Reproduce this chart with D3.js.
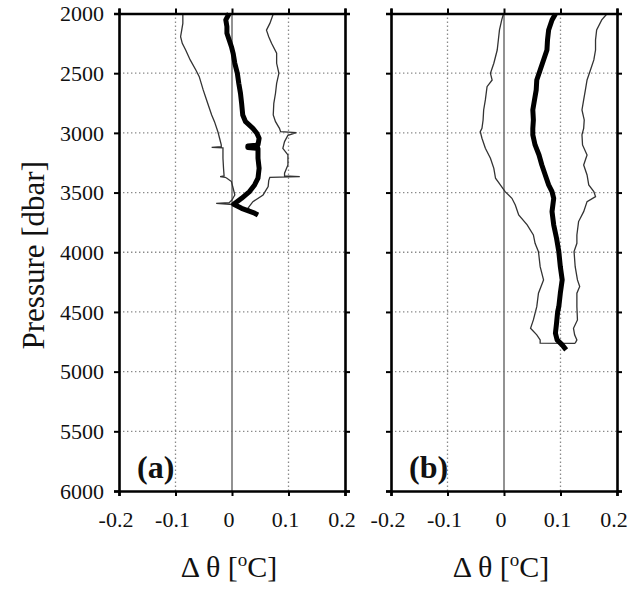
<!DOCTYPE html>
<html><head><meta charset="utf-8">
<script src="https://cdn.jsdelivr.net/npm/d3@7"></script>
<style>body{margin:0;background:#fff}svg{display:block}text{font-family:"Liberation Serif","Times New Roman",serif;fill:#111}</style>
</head><body>
<svg id="c" width="635" height="589"></svg>
<script>
// ---------- data ----------
const xTicks = [-0.2, -0.1, 0, 0.1, 0.2];
const xTickLabels = ["-0.2", "-0.1", "0", "0.1", "0.2"];
const yTicks = [2000, 2500, 3000, 3500, 4000, 4500, 5000, 5500, 6000];
const panelLabels = ["(a)", "(b)"];

// Panel (a): mean profile
const aMeanP = [2000, 2054, 2110, 2166, 2222, 2278, 2333, 2417, 2501, 2585, 2668, 2752, 2850, 2906, 2962, 3003, 3045, 3101, 3110, 3122, 3130, 3213, 3297, 3380, 3436, 3492, 3548, 3598, 3632, 3673, 3688];
const aMeanV = [-0.005, -0.011, -0.009, -0.009, -0.005, -0.001, 0.002, 0.005, 0.0095, 0.012, 0.015, 0.017, 0.019, 0.024, 0.037, 0.044, 0.048, 0.046, 0.028, 0.028, 0.046, 0.046, 0.048, 0.046, 0.040, 0.031, 0.017, 0.003, 0.017, 0.040, 0.046];
// Panel (a): lower bound
const aLowP = [2005, 2083, 2139, 2194, 2250, 2306, 2389, 2473, 2529, 2640, 2724, 2808, 2850, 2906, 2990, 3045, 3101, 3116, 3121, 3126, 3213, 3297, 3360, 3366, 3372, 3380, 3408, 3464, 3520, 3562, 3585, 3590, 3600, 3620, 3660, 3688];
const aLowV = [-0.087, -0.087, -0.089, -0.091, -0.088, -0.082, -0.074, -0.064, -0.058, -0.051, -0.045, -0.039, -0.036, -0.031, -0.025, -0.022, -0.019, -0.019, -0.036, -0.016, -0.016, -0.015, -0.014, -0.021, -0.012, -0.009, -0.001, 0.002, 0.005, 0.000, -0.005, -0.028, 0.002, 0.012, 0.032, 0.046];
// Panel (a): upper bound
const aUpP = [2005, 2083, 2139, 2194, 2250, 2333, 2417, 2501, 2585, 2668, 2752, 2850, 2906, 2962, 2990, 2998, 3020, 3073, 3129, 3185, 3269, 3338, 3360, 3366, 3372, 3400, 3450, 3520, 3576, 3632, 3688];
const aUpV = [0.073, 0.067, 0.061, 0.065, 0.070, 0.079, 0.079, 0.083, 0.079, 0.077, 0.074, 0.073, 0.077, 0.084, 0.086, 0.114, 0.099, 0.093, 0.090, 0.099, 0.099, 0.093, 0.093, 0.120, 0.067, 0.065, 0.064, 0.055, 0.037, 0.028, 0.046];

// Panel (b): mean profile
const bMeanP = [2004, 2054, 2138, 2222, 2306, 2389, 2473, 2557, 2641, 2724, 2808, 2892, 2962, 3017, 3101, 3185, 3269, 3353, 3436, 3492, 3548, 3660, 3771, 3883, 3995, 4121, 4232, 4343, 4456, 4497, 4595, 4678, 4734, 4776, 4818];
const bMeanV = [0.091, 0.085, 0.079, 0.077, 0.076, 0.070, 0.064, 0.058, 0.057, 0.054, 0.051, 0.052, 0.051, 0.051, 0.055, 0.062, 0.067, 0.073, 0.079, 0.085, 0.088, 0.085, 0.088, 0.093, 0.097, 0.0997, 0.103, 0.0997, 0.097, 0.095, 0.093, 0.091, 0.094, 0.103, 0.110];
// Panel (b): lower bound
const bLowP = [2004, 2054, 2138, 2222, 2306, 2417, 2501, 2557, 2613, 2724, 2808, 2892, 2962, 2990, 3045, 3129, 3213, 3297, 3380, 3436, 3492, 3548, 3604, 3688, 3771, 3855, 3925, 3995, 4121, 4232, 4343, 4456, 4567, 4637, 4692, 4734, 4762, 4764];
const bLowV = [-0.001, -0.004, -0.008, -0.010, -0.012, -0.018, -0.024, -0.021, -0.030, -0.033, -0.036, -0.037, -0.039, -0.042, -0.039, -0.033, -0.024, -0.018, -0.015, -0.0065, 0.002, 0.014, 0.020, 0.026, 0.041, 0.052, 0.055, 0.061, 0.064, 0.070, 0.061, 0.058, 0.052, 0.047, 0.058, 0.064, 0.064, 0.126];
// Panel (b): upper bound
const bUpP = [2004, 2054, 2138, 2222, 2306, 2389, 2473, 2557, 2641, 2724, 2808, 2892, 2962, 3017, 3101, 3185, 3269, 3353, 3436, 3492, 3534, 3576, 3660, 3743, 3855, 3925, 3995, 4121, 4232, 4287, 4343, 4456, 4567, 4637, 4692, 4734, 4762];
const bUpV = [0.182, 0.173, 0.164, 0.162, 0.162, 0.159, 0.153, 0.147, 0.144, 0.141, 0.138, 0.142, 0.141, 0.138, 0.139, 0.147, 0.141, 0.147, 0.150, 0.159, 0.162, 0.147, 0.141, 0.132, 0.129, 0.129, 0.124, 0.126, 0.130, 0.134, 0.129, 0.129, 0.130, 0.123, 0.125, 0.129, 0.126];

// ---------- drawing ----------
const svg = d3.select("#c");
const yTop = 13.5, yBot = 491;
const y = d3.scaleLinear().domain([2000, 6000]).range([yTop, yBot]);
const panels = [
  {x0: 119, x1: 345, label: panelLabels[0], lines: [[aLowP, aLowV], [aUpP, aUpV]], mean: [aMeanP, aMeanV], yLabels: true},
  {x0: 391, x1: 617, label: panelLabels[1], lines: [[bLowP, bLowV], [bUpP, bUpV]], mean: [bMeanP, bMeanV], yLabels: false}
];

panels.forEach(pn => {
  const x = d3.scaleLinear().domain([-0.2, 0.2]).range([pn.x0, pn.x1]);
  const g = svg.append("g");
  [-0.1, 0.1].forEach(v => g.append("line").attr("x1", x(v)).attr("x2", x(v)).attr("y1", yTop).attr("y2", yBot)
    .attr("stroke", "#8a8a8a").attr("stroke-width", 1.3).attr("stroke-dasharray", "1.4,2.6"));
  yTicks.slice(1, -1).forEach(p => g.append("line").attr("x1", pn.x0).attr("x2", pn.x1).attr("y1", y(p)).attr("y2", y(p))
    .attr("stroke", "#8a8a8a").attr("stroke-width", 1.3).attr("stroke-dasharray", "1.4,2.6"));
  g.append("line").attr("x1", x(0)).attr("x2", x(0)).attr("y1", yTop).attr("y2", yBot)
    .attr("stroke", "#777").attr("stroke-width", 1.6);

  const line = d3.line().x(d => x(d[1])).y(d => y(d[0]));
  pn.lines.forEach(([P, V]) => {
    g.append("path").datum(P.map((p, i) => [p, V[i]])).attr("d", line)
      .attr("fill", "none").attr("stroke", "#333").attr("stroke-width", 1.3).attr("stroke-linejoin", "miter");
  });
  g.append("path").datum(pn.mean[0].map((p, i) => [p, pn.mean[1][i]])).attr("d", line)
    .attr("fill", "none").attr("stroke", "#000").attr("stroke-width", 5).attr("stroke-linejoin", "round");

  const axB = d3.axisBottom(x).tickValues(xTicks).tickSize(5).tickFormat("");
  const axT = d3.axisTop(x).tickValues(xTicks).tickSize(5).tickFormat("");
  const axL = d3.axisLeft(y).tickValues(yTicks).tickSize(5).tickFormat("");
  const axR = d3.axisRight(y).tickValues(yTicks).tickSize(5).tickFormat("");
  [[axB, `translate(0,${yBot})`], [axT, `translate(0,${yTop})`], [axL, `translate(${pn.x0},0)`], [axR, `translate(${pn.x1},0)`]]
    .forEach(([ax, tr]) => {
      const a = svg.append("g").attr("transform", tr).call(ax);
      a.select(".domain").attr("stroke", "#000").attr("stroke-width", 2.6);
      a.selectAll(".tick line").attr("stroke", "#000").attr("stroke-width", 2);
    });

  xTicks.forEach((v, i) => svg.append("text").attr("x", x(v) - 3).attr("y", 527)
    .attr("text-anchor", "middle").attr("font-size", 22).text(xTickLabels[i]));
  if (pn.yLabels) yTicks.forEach(p => svg.append("text").attr("x", 104).attr("y", y(p)).attr("dy", "0.35em")
    .attr("text-anchor", "end").attr("font-size", 22).text(p));
  const t = svg.append("text").attr("x", (pn.x0 + pn.x1) / 2 - 3).attr("y", 577)
    .attr("text-anchor", "middle").attr("font-size", 30);
  t.append("tspan").text("\u0394 \u03b8 [");
  t.append("tspan").attr("font-size", 19).attr("dy", -11).text("o");
  t.append("tspan").attr("dy", 11).text("C]");
  svg.append("text").attr("x", pn.x0 + 18).attr("y", 478).attr("font-size", 32).attr("font-weight", "bold").text(pn.label);
});

svg.append("text").attr("transform", `translate(44,${(yTop + yBot) / 2 + 3}) rotate(-90)`)
  .attr("text-anchor", "middle").attr("font-size", 31).text("Pressure [dbar]");
</script>
</body></html>
